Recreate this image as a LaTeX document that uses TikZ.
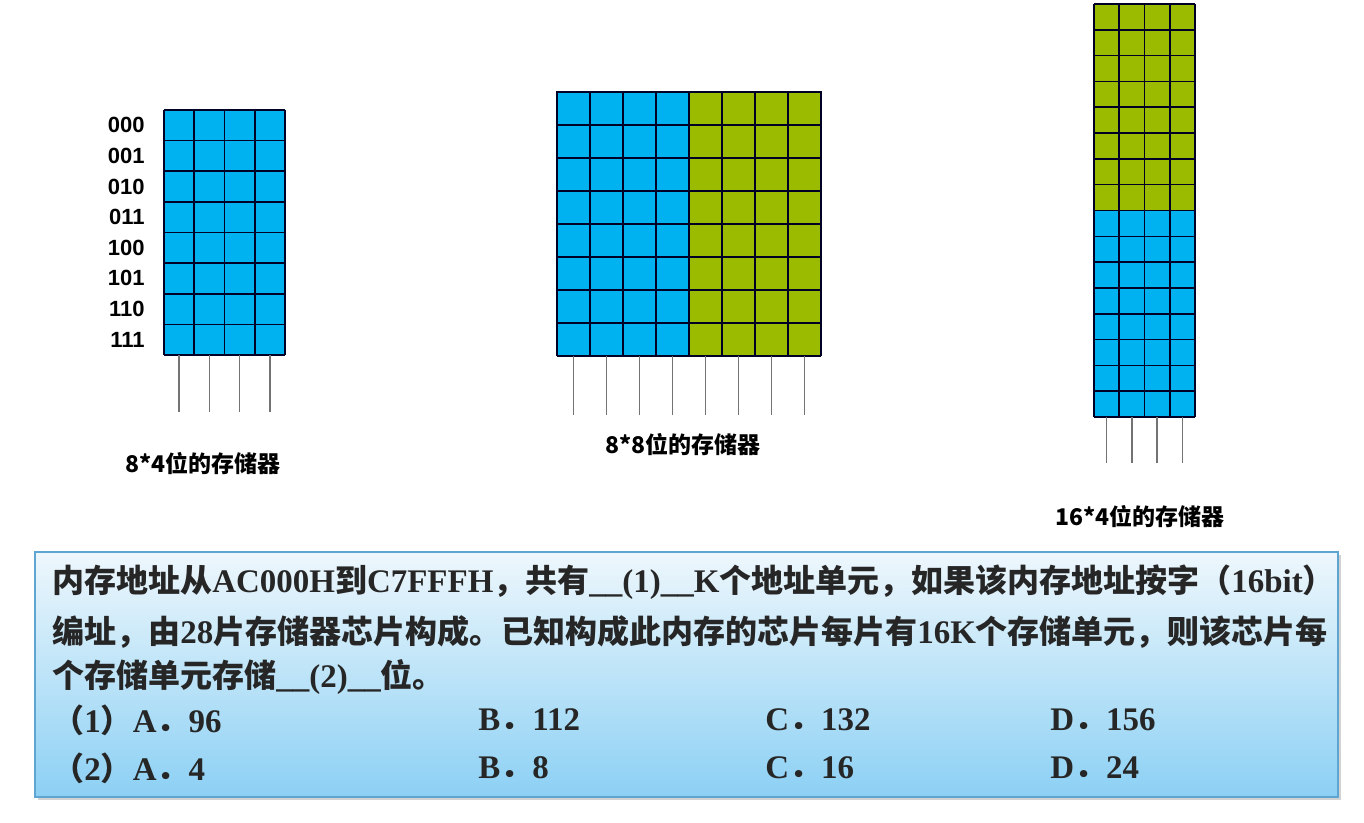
\documentclass[tikz,border=0pt]{standalone}
\usepackage{fontspec}
\setmainfont{Liberation Serif}[Scale=1.03]
\setsansfont{Liberation Sans}
\newfontfamily\cjk{Noto Sans CJK SC}
\newcommand{\zh}[1]{{\cjk #1}}
\usetikzlibrary{shadows}
\definecolor{cellblue}{RGB}{0,178,240}
\definecolor{cellgreen}{RGB}{155,187,0}
\definecolor{boxline}{RGB}{95,165,210}
\definecolor{boxtop}{RGB}{238,247,252}
\definecolor{boxbottom}{RGB}{140,208,244}
\begin{document}
\begin{tikzpicture}[x=0.5pt,y=-0.5pt,
	gridline/.style={draw=black!85!blue,line width=0.8pt},
	leg/.style={draw=black!55,line width=0.8pt},
	addr/.style={anchor=east,inner sep=0pt,font=\sffamily\bfseries\fontsize{11}{13}\selectfont},
	chipname/.style={inner sep=0pt,font=\cjk\bfseries\fontsize{11.5}{13}\selectfont},
	qline/.style={anchor=west,inner sep=0pt,text=black!85,font=\bfseries\fontsize{16}{18}\selectfont}]
	
	\useasboundingbox[fill=white] (0,0) rectangle (1364,823);
	
	% 8*4
	\fill[cellblue] (164,110) rectangle (285,355);
	\foreach \i in {0,...,4} \draw[gridline] ({164+30.25*\i},110) -- ({164+30.25*\i},355);
	\foreach \j in {0,...,8} \draw[gridline] (164,{110+30.625*\j}) -- (285,{110+30.625*\j});
	\foreach \i in {0,...,3} \draw[leg] ({179.1+30.25*\i},355) -- ++(0,57);
	\foreach \a [count=\j from 0] in {000,001,010,011,100,101,110,111}
		\node[addr] (a\a) at (145,{125.3+30.625*\j}) {\a};
	\node[chipname] (chipa) at (203,464) {8*4位的存储器};
	
	% 8*8
	\fill[cellblue] (557,92) rectangle (689,356);
	\fill[cellgreen] (689,92) rectangle (821,356);
	\foreach \i in {0,...,8} \draw[gridline] ({557+33*\i},92) -- ({557+33*\i},356);
	\foreach \j in {0,...,8} \draw[gridline] (557,{92+33*\j}) -- (821,{92+33*\j});
	\draw[gridline,line width=1.3pt] (557,92) rectangle (821,125);
	\foreach \i in {0,...,7} \draw[leg] ({573.5+33*\i},356) -- ++(0,59);
	\node[chipname] (chipb) at (683,445) {8*8位的存储器};
	
	% 16*4
	\fill[cellgreen] (1094,4) rectangle (1195,210.5);
	\fill[cellblue] (1094,210.5) rectangle (1195,417);
	\foreach \i in {0,...,4} \draw[gridline] ({1094+25.25*\i},4) -- ({1094+25.25*\i},417);
	\foreach \j in {0,...,16} \draw[gridline] (1094,{4+25.8125*\j}) -- (1195,{4+25.8125*\j});
	\foreach \i in {0,...,3} \draw[leg] ({1106.6+25.25*\i},417) -- ++(0,46);
	\node[chipname] (chipc) at (1140,517) {16*4位的存储器};
	
	% question
	\draw[draw=boxline,line width=1pt,top color=boxtop,bottom color=boxbottom,
		drop shadow={shadow xshift=1.5pt,shadow yshift=-1.5pt,opacity=0.35}] (35,552) rectangle (1338,797);
	\node[qline] (q1) at (52,582) {\zh{内存地址从}AC000H\zh{到}C7FFFH\zh{，共有}\_\_(1)\_\_K\zh{个地址单元，如果该内存地址按字（}16bit\zh{）}};
	\node[qline] (q2) at (52,632) {\zh{编址，由}28\zh{片存储器芯片构成。已知构成此内存的芯片每片有}16K\zh{个存储单元，则该芯片每}};
	\node[qline] (q3) at (52,677) {\zh{个存储单元存储}\_\_(2)\_\_\zh{位。}};
	\node[qline] (o1a) at (52,720) {\zh{（}1\zh{）}A\zh{．}96};
	\node[qline] (o1b) at (478,720) {B\zh{．}112};
	\node[qline] (o1c) at (765,720) {C\zh{．}132};
	\node[qline] (o1d) at (1050,720) {D\zh{．}156};
	\node[qline] (o2a) at (52,768) {\zh{（}2\zh{）}A\zh{．}4};
	\node[qline] (o2b) at (478,768) {B\zh{．}8};
	\node[qline] (o2c) at (765,768) {C\zh{．}16};
	\node[qline] (o2d) at (1050,768) {D\zh{．}24};
\end{tikzpicture}
\end{document}
